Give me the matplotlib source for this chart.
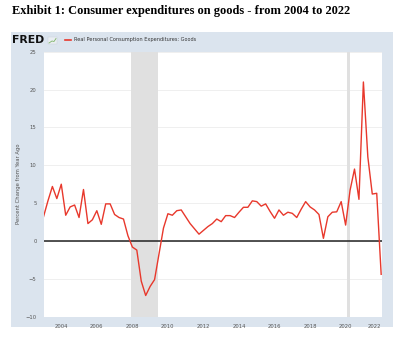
import numpy as np
import matplotlib
matplotlib.use('Agg')
from matplotlib import pyplot as plt
from matplotlib.patches import Rectangle

# quarterly, percent change from year ago
start_year = 2003.0
values = [3.2, 5.3, 7.2, 5.6,
          7.5, 3.4, 4.5, 4.75,
          3.1, 6.8, 2.3, 2.8,
          4.0, 2.2, 4.9, 4.9,
          3.5, 3.1, 2.9, 0.7,
          -0.8, -1.2, -5.3, -7.2,
          -6.0, -5.1, -1.7, 1.7,
          3.6, 3.4, 4.0, 4.1,
          3.2, 2.3, 1.6, 0.9,
          1.4, 1.9, 2.3, 2.9,
          2.55, 3.35, 3.35, 3.1,
          3.8, 4.45, 4.45, 5.3,
          5.2, 4.6, 4.9, 3.9,
          3.0, 4.1, 3.4, 3.8,
          3.65, 3.1, 4.2, 5.2,
          4.5, 4.1, 3.5, 0.35,
          3.2, 3.8, 3.85, 5.2,
          2.1, 6.7, 9.5, 5.5,
          21.0, 11.1, 6.2, 6.3,
          -4.4]
recessions = [(2007.92, 2009.42), (2020.08, 2020.25)]
x_ticks = [2004, 2006, 2008, 2010, 2012, 2014, 2016, 2018, 2020, 2022]
y_ticks = [-10, -5, 0, 5, 10, 15, 20, 25]

title = 'Exhibit 1: Consumer expenditures on goods - from 2004 to 2022'
series_name = 'Real Personal Consumption Expenditures: Goods'
y_label = 'Percent Change from Year Ago'

dates = start_year + 0.25 * np.arange(len(values))

W, H = 400, 338
fig = plt.figure(figsize=(W / 100, H / 100), dpi=100)

# FRED panel background (behind the axes)
fig.patches.append(Rectangle((11 / W, 1 - 327 / H), 382 / W, 295 / H,
                             transform=fig.transFigure, facecolor='#dbe4ee',
                             edgecolor='none', zorder=-5))

fig.text(12 / W, 1 - 11 / H, title, fontsize=8.9, fontweight='bold',
         family='Liberation Serif', va='center', ha='left')

# legend band
fig.text(12 / W, 1 - 40 / H, 'FRED', fontsize=7.8, fontweight='heavy',
         family='DejaVu Sans', va='center', ha='left', color='#111111')
# little logo chart icon
fig.patches.append(Rectangle((48 / W, 1 - 44 / H), 9 / W, 7 / H,
                             transform=fig.transFigure, facecolor='#e9eef2',
                             edgecolor='#c8d0d6', lw=0.3))
fig.lines.append(plt.Line2D([49 / W, 52 / W, 54 / W, 56 / W],
                            [1 - 43 / H, 1 - 41 / H, 1 - 41.5 / H, 1 - 38.5 / H],
                            transform=fig.transFigure, color='#7fb56a', lw=0.6))
fig.lines.append(plt.Line2D([65 / W, 71 / W], [1 - 40 / H, 1 - 40 / H],
                            transform=fig.transFigure, color='#e8382c', lw=1.2))
fig.text(74 / W, 1 - 40 / H, series_name, fontsize=3.6, color='#333333',
         va='center', ha='left')

ax = fig.add_axes([43.5 / W, 1 - 316.7 / H, (381.7 - 43.5) / W, (316.7 - 51.7) / H])
ax.set_facecolor('white')
for r0, r1 in recessions:
    ax.axvspan(r0, r1, color='#e0e0e0', lw=0, zorder=1)
ax.plot(dates, values, color='#e8382c', lw=1.0, zorder=3)
ax.axhline(0, color='#222222', lw=1.1, zorder=2)

ax.set_xlim(2003.0, 2022.03)
ax.set_ylim(-10, 25)
ax.set_yticks(y_ticks)
ax.set_xticks(x_ticks)
ax.set_xticklabels([str(t) for t in x_ticks])
ax.get_xticklabels()[-1].set_horizontalalignment('right')
ax.grid(axis='y', color='#ececec', lw=0.6, zorder=0)
ax.set_axisbelow(True)
ax.tick_params(length=0, labelsize=3.8, labelcolor='#555555', pad=5)
for s in ax.spines.values():
    s.set_visible(False)
ax.set_ylabel(y_label, fontsize=3.8, color='#555555', labelpad=3)

fig.savefig('out.png', dpi=100)
